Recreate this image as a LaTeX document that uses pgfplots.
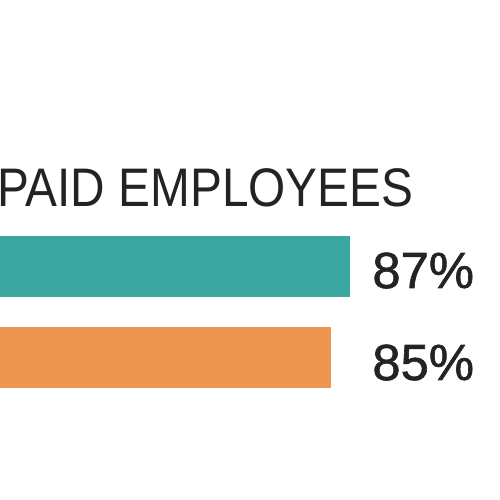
\documentclass[border=0pt]{standalone}
\usepackage{pgfplots}
\pgfplotsset{compat=1.18}
\usepackage{fontspec}
\setmainfont{Liberation Sans}
\newfontfamily\titlefont[FakeStretch=0.88]{Liberation Sans}
\newfontfamily\numfont[FakeBold=1.2]{Liberation Sans}
\definecolor{barteal}{RGB}{58,167,161}
\definecolor{barorange}{RGB}{238,150,80}
\definecolor{txt}{RGB}{35,35,35}
\begin{document}
\begin{tikzpicture}
\path[use as bounding box] (0,0) rectangle (10,10);
\clip (0,0) rectangle (10,10);
\begin{axis}[
  at={(0,0)}, anchor=south west,
  scale only axis, width=10cm, height=10cm,
  xmin=50.16, xmax=102.79, ymin=-500, ymax=0,
  axis lines=none, xbar, bar width=1.22cm, bar shift=0pt,
  clip mode=individual,
]
\addplot[fill=barteal, draw=none] coordinates {(87,-266.5)};
\addplot[fill=barorange, draw=none] coordinates {(85,-357.5)};
\node[anchor=base west, inner sep=0pt, text=txt, font=\titlefont\fontsize{30.9pt}{36pt}\selectfont] at (axis cs:49.84,-207) {PAID EMPLOYEES};
\node[anchor=base west, inner sep=0pt, text=txt, font=\numfont\fontsize{28.9pt}{34pt}\selectfont] at (axis cs:89.32,-288) {87\%};
\node[anchor=base west, inner sep=0pt, text=txt, font=\numfont\fontsize{28.9pt}{34pt}\selectfont] at (axis cs:89.32,-380) {85\%};
\end{axis}
\end{tikzpicture}
\end{document}
